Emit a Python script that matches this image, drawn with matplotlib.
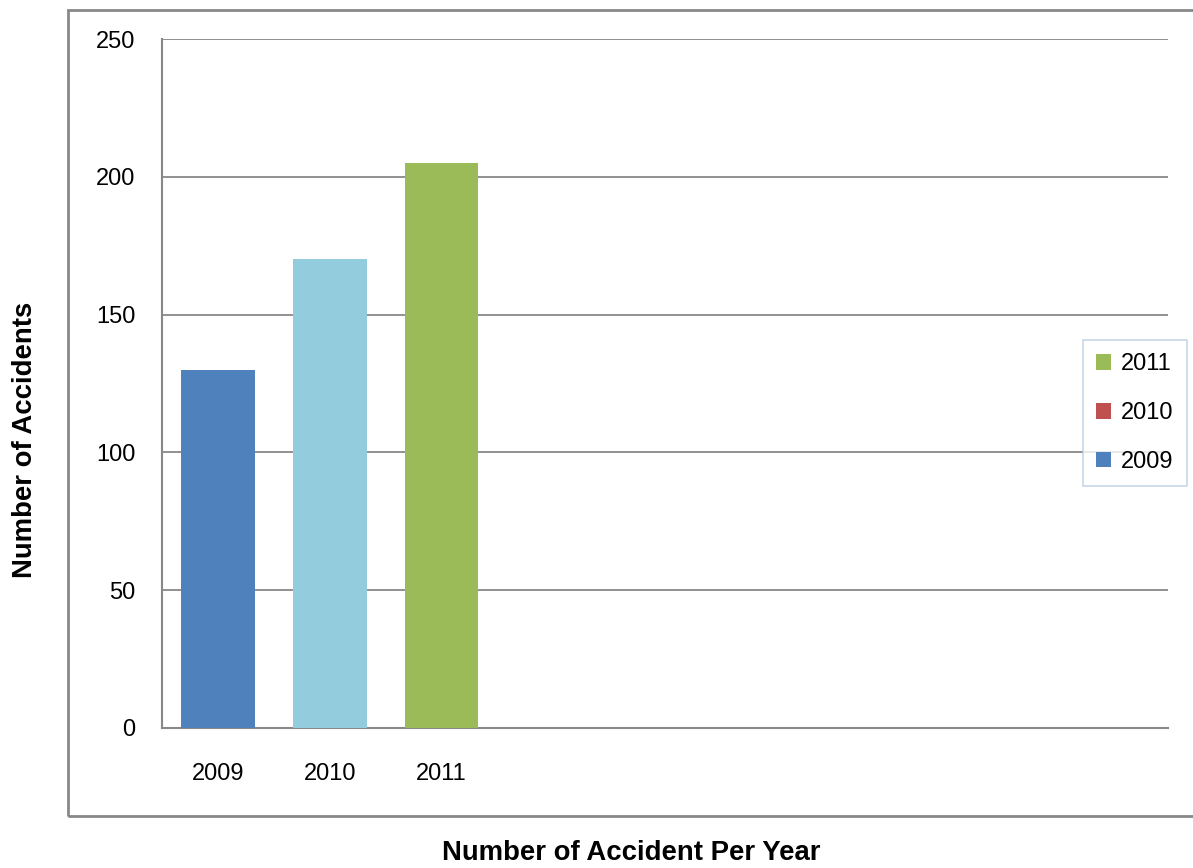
import matplotlib
matplotlib.use("Agg")
import matplotlib.pyplot as plt
from matplotlib.patches import Patch, Rectangle

categories = ["2009", "2010", "2011"]
values = [130, 170, 205]
bar_colors = ["#4F81BD", "#93CDDD", "#9BBB59"]
legend_labels = ["2011", "2010", "2009"]
legend_colors = ["#9BBB59", "#C0504D", "#4F81BD"]
yticks = [0, 50, 100, 150, 200, 250]

W, H = 1193, 868
TICK_FONT = "Liberation Sans"
fig = plt.figure(figsize=(W / 100, H / 100), dpi=100)
ax = fig.add_axes([162 / W, 1 - 728 / H, (1168 - 162) / W, (728 - 39) / H])

x = list(range(len(categories)))
ax.bar(x, values, width=0.66, color=bar_colors, zorder=3)
ax.set_xlim(-0.5, 8.5)
ax.set_ylim(0, 250)
ax.set_yticks(yticks)
ax.set_xticks(x)
ax.set_xticklabels(categories)
ax.tick_params(axis="both", length=0, labelsize=17, colors="black")
ax.tick_params(axis="x", pad=25.5)
ax.tick_params(axis="y", pad=19)
for lbl in ax.get_xticklabels() + ax.get_yticklabels():
    lbl.set_fontfamily(TICK_FONT)
ax.yaxis.grid(True, color="#888888", linewidth=1.3, zorder=0)
for s in ["top", "right"]:
    ax.spines[s].set_visible(False)
for s in ["left", "bottom"]:
    ax.spines[s].set_color("#888888")
    ax.spines[s].set_linewidth(1.5)

handles = [Patch(facecolor=c, edgecolor="none") for c in legend_colors]
leg = ax.legend(handles, legend_labels, loc="center left",
                bbox_to_anchor=(1083 / W, 1 - 413 / H), bbox_transform=fig.transFigure,
                frameon=True, fancybox=False, prop={"family": TICK_FONT, "size": 17},
                handlelength=0.64, handleheight=0.64, handletextpad=0.42,
                labelspacing=1.13, borderpad=0.55, borderaxespad=0)
leg.get_frame().set_edgecolor("#B9CDE5")
leg.get_frame().set_linewidth(1.2)

fig.text(25 / W, 1 - 440 / H, "Number of Accidents", rotation=90, ha="center", va="center",
         fontsize=19.8, fontweight="bold", family="Liberation Sans")
fig.text(631 / W, 1 - 853 / H, "Number of Accident Per Year", ha="center", va="center",
         fontsize=19.8, fontweight="bold", family="Liberation Sans")

border = Rectangle((68 / W, 1 - 816 / H), 1.2, (816 - 10) / H, transform=fig.transFigure,
                   fill=False, edgecolor="#888888", linewidth=2, clip_on=False)
fig.patches.append(border)

fig.savefig("out.png", dpi=100)
